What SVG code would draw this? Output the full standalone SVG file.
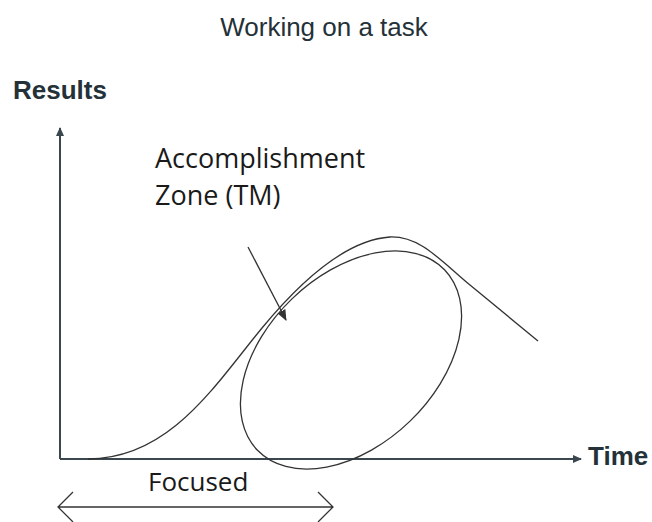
<svg xmlns="http://www.w3.org/2000/svg" width="652" height="522" viewBox="0 0 652 522">
  <style>
    .head { font-family: "Liberation Sans", Arial, sans-serif; fill: #243138; }
    .title { font-size: 26px; }
    .axis-label { font-size: 26px; font-weight: bold; }
    .note { font-family: "Open Sans", "Liberation Sans", sans-serif; fill: #1a1a1a; }
    .axis { stroke: #3a474e; stroke-width: 2; fill: none; }
    .curve { stroke: #333; stroke-width: 1.3; fill: none; }
  </style>
  <defs>
    <marker id="axisHead" markerWidth="10" markerHeight="10" refX="8" refY="5" orient="auto" markerUnits="userSpaceOnUse">
      <path d="M0,1 L9,5 L0,9 Z" fill="#3a474e"/>
    </marker>
    <marker id="pointer" markerWidth="12" markerHeight="12" refX="10" refY="6" orient="auto" markerUnits="userSpaceOnUse">
      <path d="M0,1.5 L11,6 L0,10.5 Z" fill="#333"/>
    </marker>
  </defs>
  <rect width="652" height="522" fill="#fff"/>

  <text class="head title" x="324" y="36" text-anchor="middle">Working on a task</text>

  <g id="axes">
    <line class="axis" x1="60" y1="459" x2="60" y2="128" marker-end="url(#axisHead)"/>
    <line class="axis" x1="60" y1="459" x2="581" y2="459" marker-end="url(#axisHead)"/>
    <text class="head axis-label" x="13" y="99">Results</text>
    <text class="head axis-label" x="588" y="465">Time</text>
  </g>

  <g id="results-curve">
    <path class="curve" d="M88,459 C170,459 215,385 262,328 C300,282 345,240 390,237 C420,236 440,260 470,285 L538,341"/>
  </g>

  <g id="accomplishment-zone">
    <ellipse class="curve" cx="351" cy="360" rx="130" ry="85" transform="rotate(-44 351 360)"/>
    <text class="note" x="155" y="168" font-size="27">Accomplishment</text>
    <text class="note" x="155" y="205" font-size="27">Zone (TM)</text>
  </g>

  <g id="connectors">
    <line class="curve" x1="248" y1="247" x2="286" y2="320" marker-end="url(#pointer)"/>
  </g>

  <g id="focused">
    <text class="note" x="148" y="491" font-size="26">Focused</text>
    <path class="curve" d="M58,507 L333,507 M73,492 L58,507 L73,522 M318,492 L333,507 L318,522"/>
  </g>
</svg>
